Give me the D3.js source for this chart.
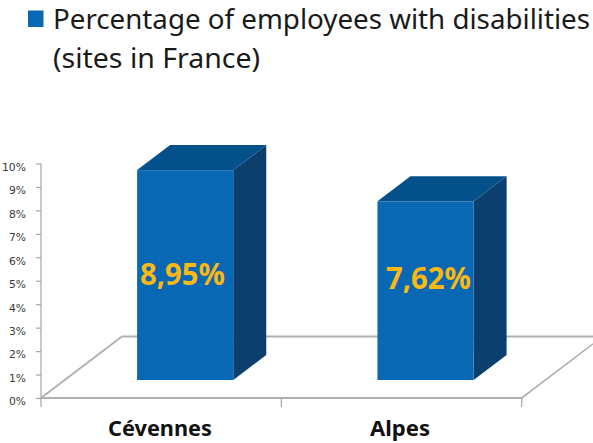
<!DOCTYPE html>
<html><head><meta charset="utf-8">
<script src="https://cdnjs.cloudflare.com/ajax/libs/d3/7.8.5/d3.min.js"></script>
<style>html,body{margin:0;padding:0;background:#fff}svg{display:block}</style></head>
<body><svg id="c" width="593" height="443"></svg>
<script>
const categories = ["Cévennes", "Alpes"];
const values = [8.95, 7.62];
const valueLabels = ["8,95%", "7,62%"];
const yTicks = [0,1,2,3,4,5,6,7,8,9,10];
const titleLines = ["Percentage of employees with disabilities", "(sites in France)"];

const svg = d3.select("#c");
const font = "'Noto Sans','Open Sans',sans-serif";
const y = d3.scaleLinear().domain([0,10]).range([398,163.5]);
const x = d3.scaleBand().domain(categories).range([41,521.7]).paddingInner(0.6).paddingOuter(0.3);
const floorDx = 81, floorDy = -61.5;
const depthDx = 33, depthDy = -25;
const barDx = 24, barDy = -18;
const gray = "#b0b0b0";

// floor
svg.append("path").attr("fill","none").attr("stroke",gray).attr("stroke-width",1.8)
  .attr("d",`M${x.range()[0]},${y(0)}L${x.range()[0]+floorDx},${y(0)+floorDy}L593,${y(0)+floorDy}`);
svg.append("path").attr("fill","none").attr("stroke",gray).attr("stroke-width",1.6)
  .attr("d",`M${x.range()[1]},${y(0)}L593,${y(0)+floorDy*(593-x.range()[1])/floorDx}`);

// axes
const yAxis = d3.axisLeft(y).tickValues(yTicks).tickFormat(d=>d+"%").tickSize(5).tickPadding(10);
const gy = svg.append("g").attr("transform","translate(41,0)").call(yAxis);
gy.select("path.domain").attr("d","M0,398V163.5");
gy.selectAll("path,line").attr("stroke","#a6a6a6").attr("stroke-width",1.2);
gy.selectAll("text").attr("font-family","'DejaVu Sans',sans-serif").attr("font-size",11).attr("fill","#3a3a3a")
  .attr("dy","0.62em")
  .attr("textLength",d=>d===10?24:17).attr("lengthAdjust","spacingAndGlyphs");
svg.append("line").attr("x1",41).attr("x2",521.7).attr("y1",398).attr("y2",398).attr("stroke",gray).attr("stroke-width",1.8);
const step = x.step();
svg.selectAll("line.t").data(d3.range(3)).join("line").attr("class","t")
  .attr("x1",d=>41+d*step).attr("x2",d=>41+d*step).attr("y1",398).attr("y2",407)
  .attr("stroke","#a6a6a6").attr("stroke-width",1.2);

// bars
const labelX = [182.5, 428.5], labelY = [285, 289];
const bars = svg.selectAll("g.bar").data(categories).join("g").attr("class","bar");
bars.each(function(c,i){
  const g = d3.select(this);
  const l = x(c)+barDx, r = l+x.bandwidth(), t = y(values[i])+barDy, b = y(0)+barDy;
  g.append("path").attr("fill","#0c3f6e").attr("d",`M${r},${t}L${r+depthDx},${t+depthDy}L${r+depthDx},${b+depthDy}L${r},${b}Z`);
  g.append("path").attr("fill","#04508a").attr("d",`M${l},${t}L${l+depthDx},${t+depthDy}L${r+depthDx},${t+depthDy}L${r},${t}Z`);
  g.append("rect").attr("x",l).attr("y",t).attr("width",x.bandwidth()).attr("height",b-t).attr("fill","#0868b4");
  g.append("text").attr("x",labelX[i]).attr("y",labelY[i]).attr("text-anchor","middle")
    .attr("font-family",font).attr("font-weight",700).attr("font-size",30).attr("fill","#fdb813")
    .attr("textLength",85).attr("lengthAdjust","spacingAndGlyphs").text(valueLabels[i]);
});

// category labels
svg.selectAll("text.cat").data(categories).join("text").attr("class","cat")
  .attr("x",(d,i)=>i?400:160).attr("y",436).attr("text-anchor","middle")
  .attr("font-family",font).attr("font-weight",700).attr("font-size",21).attr("fill","#111")
  .attr("textLength",(d,i)=>i?60:104).attr("lengthAdjust","spacingAndGlyphs")
  .text(d=>d);

// title
svg.append("rect").attr("x",28).attr("y",10.5).attr("width",15.5).attr("height",16.5).attr("fill","#0868b4");
svg.selectAll("text.title").data(titleLines).join("text").attr("class","title")
  .attr("x",53).attr("y",(d,i)=>i?68:29).attr("font-family",font).attr("font-size",27).attr("fill","#1a1a1a")
  .attr("textLength",(d,i)=>i?207:537).attr("lengthAdjust","spacingAndGlyphs").text(d=>d);
</script></body></html>
